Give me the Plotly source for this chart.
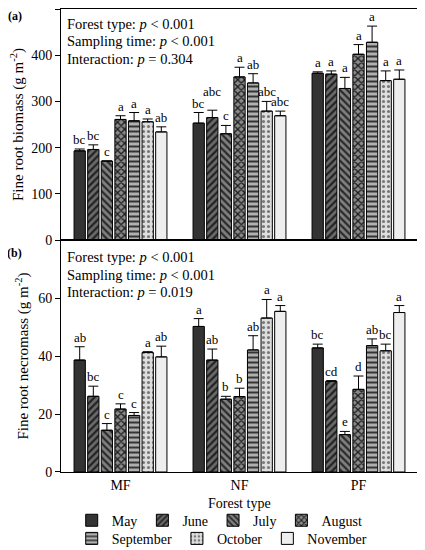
import plotly.graph_objects as go
from plotly.subplots import make_subplots

forest_types = ["MF", "NF", "PF"]
months = ["May", "June", "July", "August", "September", "October", "November"]

# fine root biomass (g m-2), one row per month: MF, NF, PF
biomass_mean = [
    [193, 253, 361],
    [196, 265, 359],
    [171, 230, 328],
    [261, 353, 402],
    [258, 340, 428],
    [256, 279, 345],
    [234, 269, 348],
]
biomass_se = [
    [4, 23, 3],
    [10, 16, 7],
    [0, 18, 24],
    [8, 21, 21],
    [18, 20, 35],
    [6, 21, 21],
    [11, 10, 20],
]
biomass_letters = [
    ["bc", "bc", "a"],
    ["bc", "abc", "a"],
    ["c", "c", "a"],
    ["a", "a", "a"],
    ["a", "ab", "a"],
    ["a", "abc", "a"],
    ["ab", "abc", "a"],
]

# fine root necromass (g m-2)
necro_mean = [
    [38.6, 50.2, 42.8],
    [26.1, 38.6, 31.3],
    [14.4, 25.1, 12.9],
    [21.7, 26.0, 28.5],
    [19.5, 42.1, 43.6],
    [41.2, 53.1, 41.8],
    [39.7, 55.4, 55.0],
]
necro_se = [
    [4.6, 2.7, 1.3],
    [3.5, 3.8, 0.2],
    [2.3, 1.0, 1.1],
    [1.8, 2.9, 4.6],
    [1.0, 4.9, 2.3],
    [0.3, 6.4, 2.3],
    [3.7, 2.0, 2.4],
]
necro_letters = [
    ["ab", "a", "bc"],
    ["bc", "ab", "cd"],
    ["c", "b", "e"],
    ["c", "b", "d"],
    ["c", "ab", "ab"],
    ["a", "a", "bc"],
    ["ab", "a", "a"],
]

pattern_shapes = ["", "/", "\\", "x", "-", ".", ""]
bg_colors = ["#333333", "#6a6a6a", "#808080", "#8a8a8a", "#b0b0b0", "#dedede", "#eeeeee"]
fg_colors = ["#333333", "#222222", "#2a2a2a", "#1e1e1e", "#333333", "#777777", "#eeeeee"]
solidity = [0.5, 0.45, 0.45, 0.45, 0.4, 0.3, 0.5]

FONT = "Liberation Serif"
BARGAP = 0.2

fig = make_subplots(rows=2, cols=1, shared_xaxes=True, vertical_spacing=0)

for k, m in enumerate(months):
    # first row of the legend: May-August, second row: the rest
    leg = "legend" if k < 4 else "legend2"
    for row, means, ses in [(1, biomass_mean, biomass_se), (2, necro_mean, necro_se)]:
        fig.add_trace(go.Bar(
            x=forest_types,
            y=means[k],
            name=m,
            legendgroup=m,
            legend=leg,
            showlegend=(row == 1),
            marker=dict(
                color=bg_colors[k],
                line=dict(color="black", width=1),
                pattern=dict(shape=pattern_shapes[k], fgcolor=fg_colors[k],
                             bgcolor=bg_colors[k], size=5, solidity=solidity[k],
                             fillmode="replace"),
            ),
            error_y=dict(type="data", symmetric=False, array=ses[k],
                         arrayminus=[0, 0, 0], color="black", thickness=1, width=5),
        ), row=row, col=1)

# significance letters above the error bars
slot = (1 - BARGAP) / len(months)
for row, means, ses, letters, yref in [
    (1, biomass_mean, biomass_se, biomass_letters, "y"),
    (2, necro_mean, necro_se, necro_letters, "y2"),
]:
    for k in range(len(months)):
        for i in range(len(forest_types)):
            # lift the NF June label so it clears its neighbour, as in the original
            lift = 9 if (row == 1 and k == 1 and i == 1) else 0
            fig.add_annotation(
                x=i - (1 - BARGAP) / 2 + (k + 0.5) * slot,
                y=means[k][i] + ses[k][i],
                xref="x" if row == 1 else "x2", yref=yref,
                text=letters[k][i], showarrow=False, yanchor="bottom", yshift=lift,
                font=dict(family=FONT, size=13, color="black"),
            )

# p-value texts
stats_a = ["Forest type: <i>p</i> < 0.001", "Sampling time: <i>p</i> < 0.001",
           "Interaction: <i>p</i> = 0.304"]
stats_b = ["Forest type: <i>p</i> < 0.001", "Sampling time: <i>p</i> < 0.001",
           "Interaction: <i>p</i> = 0.019"]
for j, t in enumerate(stats_a):
    fig.add_annotation(x=0.01, y=0.968 - j * 0.038, xref="paper", yref="paper",
                       text=t, showarrow=False, xanchor="left", yanchor="middle",
                       font=dict(family=FONT, size=14.5, color="black"))
for j, t in enumerate(stats_b):
    fig.add_annotation(x=0.01, y=0.464 - j * 0.038, xref="paper", yref="paper",
                       text=t, showarrow=False, xanchor="left", yanchor="middle",
                       font=dict(family=FONT, size=14.5, color="black"))

fig.add_annotation(x=-0.13, y=0.985, xref="paper", yref="paper", text="<b>(a)</b>",
                   showarrow=False, xanchor="center", yanchor="middle",
                   font=dict(family=FONT, size=12, color="black"))
fig.add_annotation(x=-0.13, y=0.473, xref="paper", yref="paper", text="<b>(b)</b>",
                   showarrow=False, xanchor="center", yanchor="middle",
                   font=dict(family=FONT, size=12, color="black"))

# x axis title, placed by hand so it stays clear of the legend
fig.add_annotation(x=0.5, y=-0.068, xref="paper", yref="paper", text="Forest type",
                   showarrow=False, xanchor="center", yanchor="middle",
                   font=dict(family=FONT, size=14, color="black"))

axis_style = dict(showline=True, linecolor="black", linewidth=1, mirror=True,
                  showgrid=False, zeroline=False)

fig.update_xaxes(**axis_style, ticks="", tickfont=dict(family=FONT, size=14, color="black"))
fig.update_xaxes(showticklabels=False, row=1, col=1)

fig.update_yaxes(**axis_style, ticks="outside", ticklen=5, tickcolor="black",
                 tickfont=dict(family=FONT, size=14, color="black"))
fig.update_yaxes(range=[0, 500], tickvals=[0, 100, 200, 300, 400, 500],
                 domain=[0.501, 1],
                 title=dict(text="Fine root biomass (g m<sup>-2</sup>)", standoff=5,
                            font=dict(family=FONT, size=15, color="black")),
                 row=1, col=1)
fig.update_yaxes(range=[0, 80], tickvals=[0, 20, 40, 60], domain=[0, 0.501],
                 title=dict(text="Fine root necromass (g m<sup>-2</sup>)", standoff=5,
                            font=dict(family=FONT, size=15, color="black")),
                 row=2, col=1)

legend_style = dict(orientation="h", xanchor="left", yanchor="top", yref="container",
                    font=dict(family=FONT, size=14, color="black"),
                    itemwidth=30, tracegroupgap=0, traceorder="normal",
                    bgcolor="rgba(0,0,0,0)")

# the page adds an 8px body margin, so the figure is pulled up/left by that much
fig.update_layout(
    barmode="group",
    bargap=BARGAP,
    bargroupgap=0.17,
    width=425,
    height=550,
    margin=dict(l=53, r=15, t=1, b=86, autoexpand=False),
    plot_bgcolor="white",
    paper_bgcolor="white",
    font=dict(family=FONT, size=14, color="black"),
    legend=dict(x=0.03, y=0.097, **legend_style),
    legend2=dict(x=0.03, y=0.064, **legend_style),
)

fig.write_html("out.html")
